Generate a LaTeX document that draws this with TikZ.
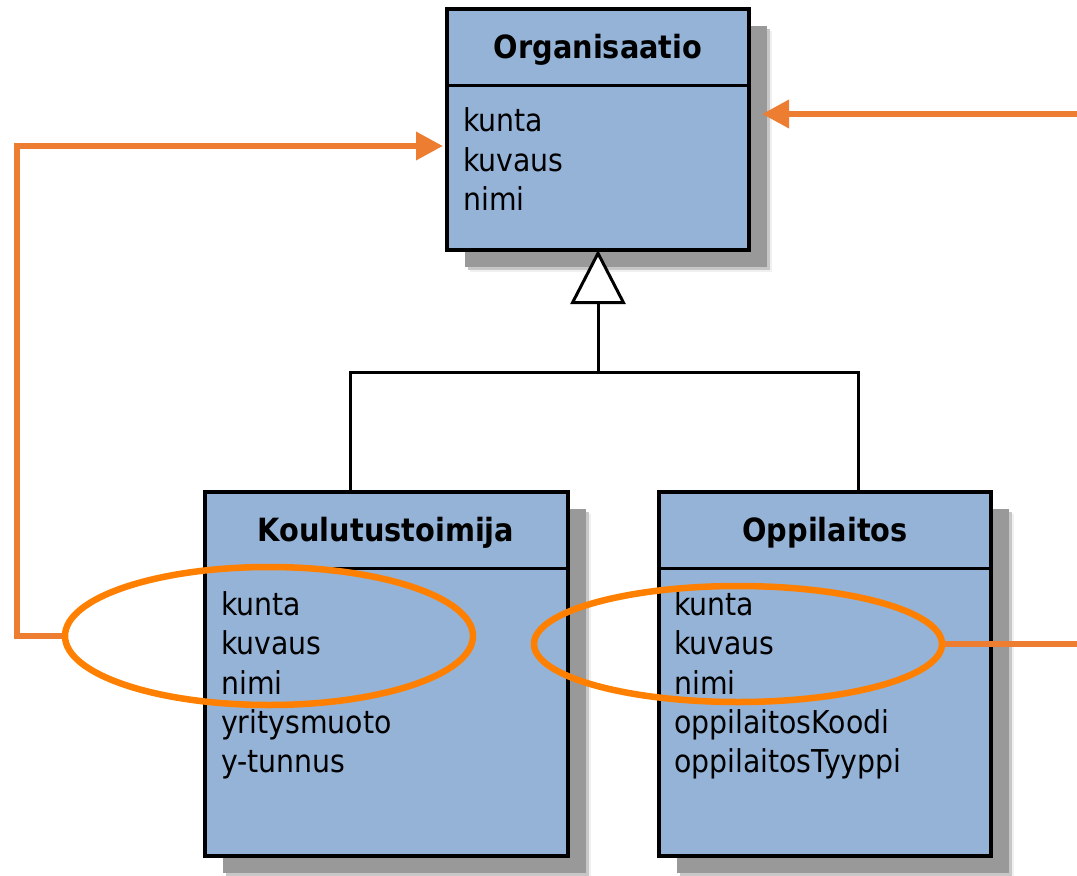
\documentclass[tikz,border=0pt]{standalone}
\usepackage{fontspec}
\setmainfont{DejaVu Sans Condensed}
\usetikzlibrary{arrows.meta,shapes.geometric,calc}
\definecolor{umlfill}{HTML}{95B3D7}
\definecolor{arroworange}{HTML}{ED7D31}
\definecolor{ringorange}{HTML}{FF8000}
\definecolor{shadowgray}{HTML}{999999}
\pgfdeclarelayer{background}
\pgfsetlayers{background,main}

\tikzset{
  classbox/.style={draw=black, line width=3.2pt, fill=umlfill, anchor=north west,
    inner sep=0pt, outer sep=0pt},
  divider/.style={draw=black, line width=3pt},
  titletext/.style={anchor=base, inner sep=0pt, font=\fontsize{32}{36}\selectfont\bfseries},
  attrtext/.style={anchor=base west, inner sep=0pt, font=\fontsize{31.5}{36}\selectfont},
  genline/.style={draw=black, line width=3pt},
  orangeline/.style={draw=arroworange, line width=6.5pt},
  ring/.style={ellipse, draw=ringorange, line width=6.5pt, inner sep=0pt},
  orangetip/.style={-{Triangle[length=27pt,width=27pt]}},
}

% soft drop shadow behind a class box
\newcommand\classshadow[1]{%
  \begin{pgfonlayer}{background}
    \fill[black!6] ($(#1.north west)+(23,22)$) rectangle ($(#1.south east)+(23,22)$);
    \fill[black!22] ($(#1.north west)+(21,20)$) rectangle ($(#1.south east)+(21,20)$);
    \fill[shadowgray] ($(#1.north west)+(18,17)$) rectangle ($(#1.south east)+(18,17)$);
  \end{pgfonlayer}}

\begin{document}
\begin{tikzpicture}[x=1pt,y=-1pt]
  \useasboundingbox (0,0) rectangle (1077,876);

  % class boxes
  \node[classbox, minimum width=302pt, minimum height=241pt] (org) at (447,9) {};
  \node[classbox, minimum width=363pt, minimum height=364pt] (koul) at (205,492) {};
  \node[classbox, minimum width=332pt, minimum height=364pt] (opp) at (659,492) {};
  \classshadow{org}
  \classshadow{koul}
  \classshadow{opp}

  % header separators
  \draw[divider] ($(org.north west)+(0,76)$) -- ($(org.north east)+(0,76)$);
  \draw[divider] ($(koul.north west)+(0,76)$) -- ($(koul.north east)+(0,76)$);
  \draw[divider] ($(opp.north west)+(0,76)$) -- ($(opp.north east)+(0,76)$);

  % class names
  \node[titletext] (org-name) at (598,58) {Organisaatio};
  \node[titletext] (koul-name) at (386,541) {Koulutustoimija};
  \node[titletext] (opp-name) at (825,541) {Oppilaitos};

  % attributes
  \node[attrtext] (org-a1) at (463,131) {kunta};
  \node[attrtext] (org-a2) at (463,171) {kuvaus};
  \node[attrtext] (org-a3) at (463,210) {nimi};

  \node[attrtext] (koul-a1) at (221,615) {kunta};
  \node[attrtext] (koul-a2) at (221,654) {kuvaus};
  \node[attrtext] (koul-a3) at (221,694) {nimi};
  \node[attrtext] (koul-a4) at (221,733) {yritysmuoto};
  \node[attrtext] (koul-a5) at (221,772) {y-tunnus};

  \node[attrtext] (opp-a1) at (674,615) {kunta};
  \node[attrtext] (opp-a2) at (674,654) {kuvaus};
  \node[attrtext] (opp-a3) at (674,694) {nimi};
  \node[attrtext] (opp-a4) at (674,733) {oppilaitosKoodi};
  \node[attrtext] (opp-a5) at (674,772) {oppilaitosTyyppi};

  % generalization
  \coordinate (hub) at (598,372);
  \coordinate (kj) at (350,492);
  \coordinate (oj) at (858,492);
  \draw[genline] (kj) |- (hub) -| (oj);
  \draw[genline, -{Triangle[open, fill=white, length=54pt, width=55pt, line width=3pt]}]
    (hub) -- (org.south -| hub);

  % highlighted attribute groups
  \node[ring, minimum width=408pt, minimum height=138pt] (ringk) at (269,636) {};
  \node[ring, minimum width=408pt, minimum height=116pt] (ringo) at (738,644) {};

  % mapping arrows
  \coordinate (lbot) at (17,636);
  \coordinate (ltop) at (17,146);
  \draw[orangeline, orangetip] (ringk.west) -- (lbot) -- (ltop)
    -- ($(org.west |- ltop)+(-4,0)$);

  \coordinate (rin) at (1077,114);
  \draw[orangeline, orangetip] (rin) -- ($(org.east |- rin)+(13,0)$);

  \coordinate (rout) at (1077,644);
  \draw[orangeline] (ringo.east) -- (rout);
\end{tikzpicture}
\end{document}
